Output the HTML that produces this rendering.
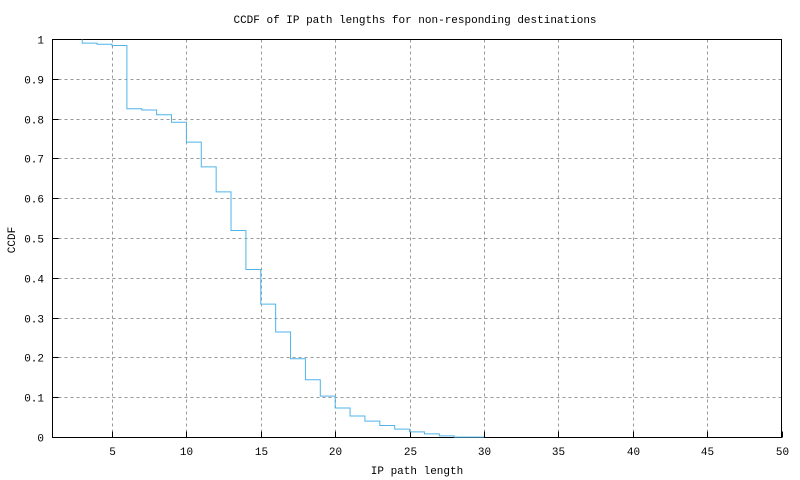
<!DOCTYPE html>
<html><head><meta charset="utf-8"><style>
body{margin:0;background:#fff}
svg{display:block;font-family:"Liberation Mono","DejaVu Sans Mono",monospace;font-size:11px}
</style></head><body>
<svg id="chart" width="800" height="480" viewBox="0 0 800 480">
<rect width="800" height="480" fill="#fff"/>
<text x="415" y="23" text-anchor="middle">CCDF of IP path lengths for non-responding destinations</text>
<text transform="translate(15,240) rotate(-90)" text-anchor="middle">CCDF</text>
<text x="417" y="474" text-anchor="middle">IP path length</text>
<g id="grid"></g>
<g id="ticks"></g>
<rect x="52.5" y="39.5" width="729" height="398" fill="none" stroke="#000"/>
<path id="line" fill="none" stroke="#4fb3e8" stroke-width="1"/>
</svg>
<script>
const xs = [3,4,5,6,7,8,9,10,11,12,13,14,15,16,17,18,19,20,21,22,23,24,25,26,27,28,29,30];
const ys = [0.991,0.988,0.985,0.826,0.823,0.811,0.792,0.742,0.68,0.617,0.52,0.422,0.335,0.265,0.198,0.145,0.104,0.074,0.054,0.041,0.030,0.021,0.014,0.009,0.004,0.001,0.001,0.001];
const xTicks = [5,10,15,20,25,30,35,40,45,50];
const yTicks = [0,0.1,0.2,0.3,0.4,0.5,0.6,0.7,0.8,0.9,1];
const yTickLabels = ["0","0.1","0.2","0.3","0.4","0.5","0.6","0.7","0.8","0.9","1"];
const X = v => 52.5 + (v-1)*729/49;
const Y = v => 437.5 - v*398;
const NS = "http://www.w3.org/2000/svg";
const grid = document.getElementById('grid'), ticks = document.getElementById('ticks');
function mk(tag, attrs, parent){const e=document.createElementNS(NS,tag);for(const k in attrs)e.setAttribute(k,attrs[k]);parent.appendChild(e);return e;}
xTicks.forEach(t=>{
  const x=Math.round(X(t))+0.5;
  if(t<50){const g=mk('line',{x1:x,x2:x,y1:39.5,y2:437.5,stroke:'#999','stroke-dasharray':'3,3'},grid);
  
  }
  const tk=mk('line',{x1:x,x2:x,y1:437.5,y2:431.5,stroke:'#000'},ticks);
  
  
  const tx=mk('text',{x:x,y:455,'text-anchor':'middle'},ticks);tx.textContent=t;
  
  
});
yTicks.forEach((t,i)=>{
  const y=Math.round(Y(t)-0.5)+0.5;
  if(t>0&&t<1){const g=mk('line',{x1:52.5,x2:781.5,y1:y,y2:y,stroke:'#999','stroke-dasharray':'3,3'},grid);
  
  }
  const tk=mk('line',{x1:52.5,x2:58.5,y1:y,y2:y,stroke:'#000'},ticks);
  
  
  const tx=mk('text',{x:44,y:y+4,'text-anchor':'end'},ticks);tx.textContent=yTickLabels[i];
  
  
});
let d='';
for(let i=0;i<xs.length;i++){
  const x=X(xs[i]), y=Y(ys[i]);
  if(i===0) d+=`M${x},${Y(1)}V${y}`; else d+=`V${y}`;
  const nx = i<xs.length-1 ? X(xs[i+1]) : X(xs[i]);
  d+=`H${nx}`;
}
document.getElementById('line').setAttribute('d',d);
</script>
</body></html>
